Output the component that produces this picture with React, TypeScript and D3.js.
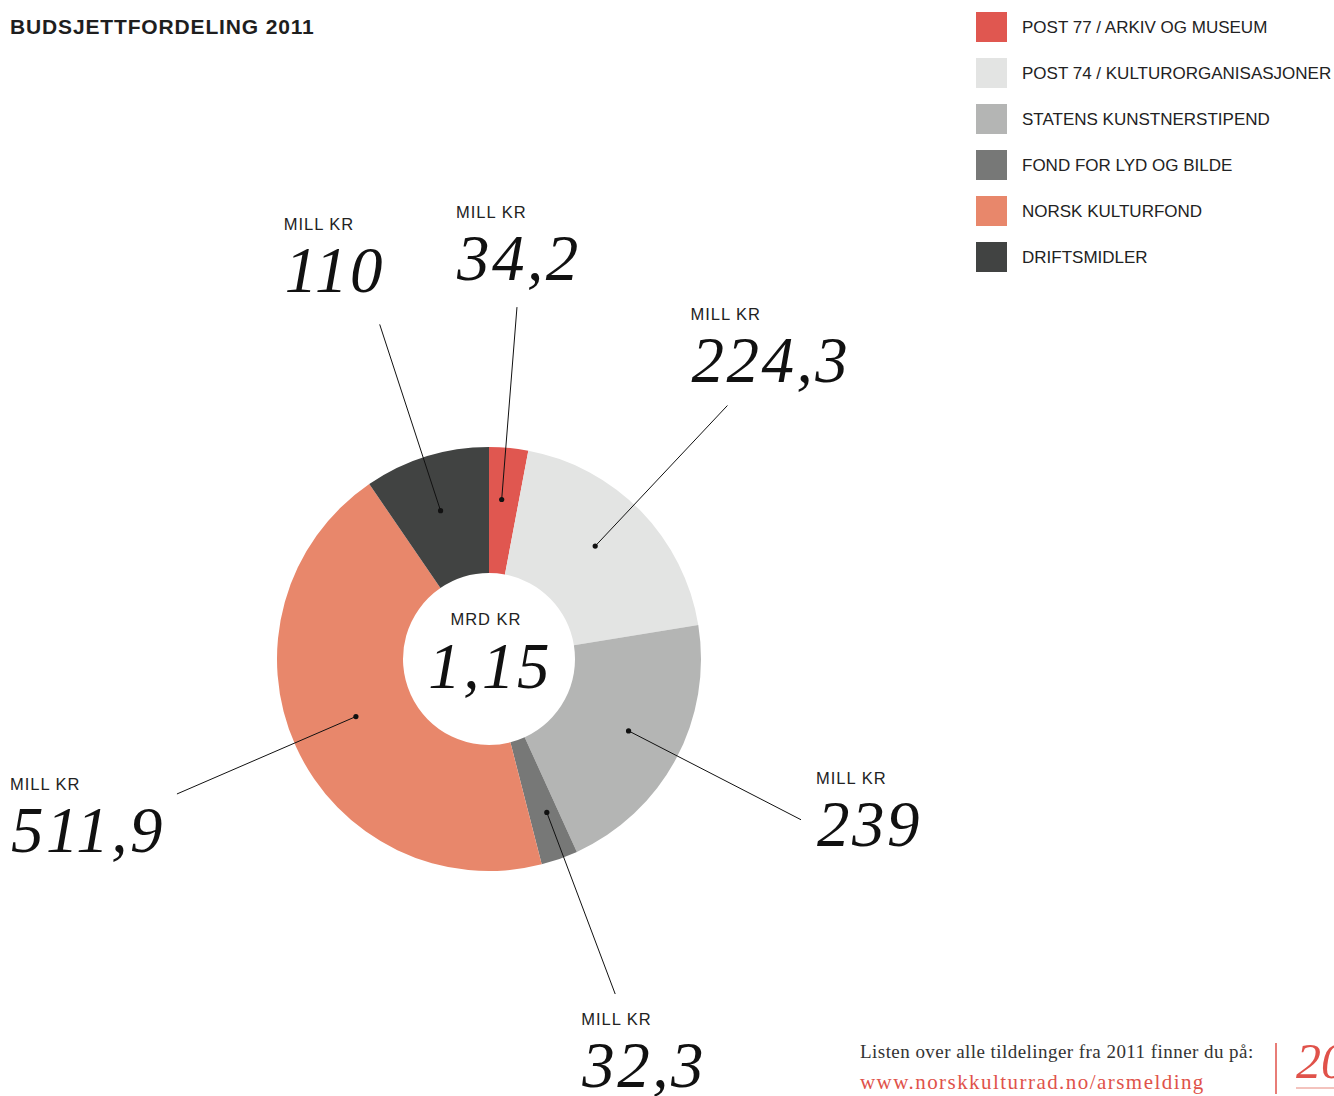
import React from 'react';
import * as d3 from 'd3';

// budget 2011, mill kr
const categories = [
  'POST 77 / ARKIV OG MUSEUM',
  'POST 74 / KULTURORGANISASJONER',
  'STATENS KUNSTNERSTIPEND',
  'FOND FOR LYD OG BILDE',
  'NORSK KULTURFOND',
  'DRIFTSMIDLER',
];
const values = [34.2, 224.3, 239, 32.3, 511.9, 110];
const valueLabels = ['34,2', '224,3', '239', '32,3', '511,9', '110'];
const colors = ['#e05750', '#e3e4e3', '#b4b5b4', '#777877', '#e8876b', '#414342'];
const totalLabel = '1,15';

// leader line tweaks (angle nudge in degrees, dot radius, end radius)
// and where the label text sits relative to the end of the line
const labelLayout = [
  { da: -0.8, r0: 160, r1: 353, dx: -60, dy: -27 },
  { da: -2.5, r0: 155, r1: 348, dx: -36, dy: -24 },
  { da: -0.9, r0: 157, r1: 351, dx: 16, dy: 26 },
  { da: -1.2, r0: 164, r1: 358, dx: -33, dy: 93 },
  { da: 1.0, r0: 145, r1: 340, dx: -166, dy: 58 },
  { da: -0.9, r0: 156, r1: 352, dx: -95, dy: -32 },
];

const W = 1334, H = 1096;
const cx = 489, cy = 659;
const outerR = 212, innerR = 86;

const sans = '"Liberation Sans", Arial, sans-serif';
const serif = '"Liberation Serif", "Times New Roman", serif';

export default function App() {
  React.useEffect(() => {
    document.body.style.margin = '0';
  }, []);

  const pie = d3.pie<number>().sort(null).value(d => d);
  const arcs = pie(values);
  const arc = d3.arc<d3.PieArcDatum<number>>().innerRadius(innerR).outerRadius(outerR);

  const polar = (a: number, r: number) => [Math.sin(a) * r, -Math.cos(a) * r];

  return (
    <svg width={W} height={H} style={{ display: 'block', background: '#fff' }}>
      <text x={10} y={34} fontFamily={sans} fontWeight="bold" fontSize={21} letterSpacing={0.85} fill="#1e1e1e">
        BUDSJETTFORDELING 2011
      </text>

      {/* legend */}
      <g>
        {categories.map((c, i) => (
          <g key={c} transform={`translate(976,${12 + i * 46})`}>
            <rect width={31} height={30} fill={colors[i]} />
            <text x={46} y={20.5} fontFamily={sans} fontSize={17} fill="#222">{c}</text>
          </g>
        ))}
      </g>

      <g transform={`translate(${cx},${cy})`}>
        {arcs.map((a, i) => (
          <path key={i} d={arc(a) || ''} fill={colors[i]} />
        ))}

        {arcs.map((a, i) => {
          const L = labelLayout[i];
          const mid = (a.startAngle + a.endAngle) / 2 + (L.da * Math.PI) / 180;
          const [x1, y1] = polar(mid, L.r0);
          const [x2, y2] = polar(mid, L.r1);
          const tx = x2 + L.dx;
          const ty = y2 + L.dy;
          return (
            <g key={'l' + i}>
              <line x1={x1} y1={y1} x2={x2} y2={y2} stroke="#111" strokeWidth={1} />
              <circle cx={x1} cy={y1} r={2.6} fill="#111" />
              <text x={tx - 1} y={ty - 62} fontFamily={sans} fontSize={16.5} letterSpacing={1} fill="#222">MILL KR</text>
              <text x={tx} y={ty} fontFamily={serif} fontStyle="italic" fontSize={65} letterSpacing={2.5} fill="#111">{valueLabels[i]}</text>
            </g>
          );
        })}

        <text x={-3} y={-34} textAnchor="middle" fontFamily={sans} fontSize={16.5} letterSpacing={1} fill="#222">MRD KR</text>
        <text x={1} y={29} textAnchor="middle" fontFamily={serif} fontStyle="italic" fontSize={65} letterSpacing={2.5} fill="#111">{totalLabel}</text>
      </g>

      {/* footer */}
      <text x={860} y={1058} fontFamily={serif} fontSize={19} letterSpacing={0.45} fill="#333">
        Listen over alle tildelinger fra 2011 finner du på:
      </text>
      <text x={860} y={1089} fontFamily={serif} fontSize={21} fill="#e0524a" letterSpacing={1.45}>
        www.norskkulturrad.no/arsmelding
      </text>
      <line x1={1276} y1={1043} x2={1276} y2={1094} stroke="#e0524a" strokeWidth={1.5} />
      <text x={1296} y={1078} fontFamily={serif} fontStyle="italic" fontSize={50} fill="#e0524a">20</text>
      <line x1={1296} y1={1088} x2={1334} y2={1088} stroke="#e8877c" strokeWidth={1} />
    </svg>
  );
}
